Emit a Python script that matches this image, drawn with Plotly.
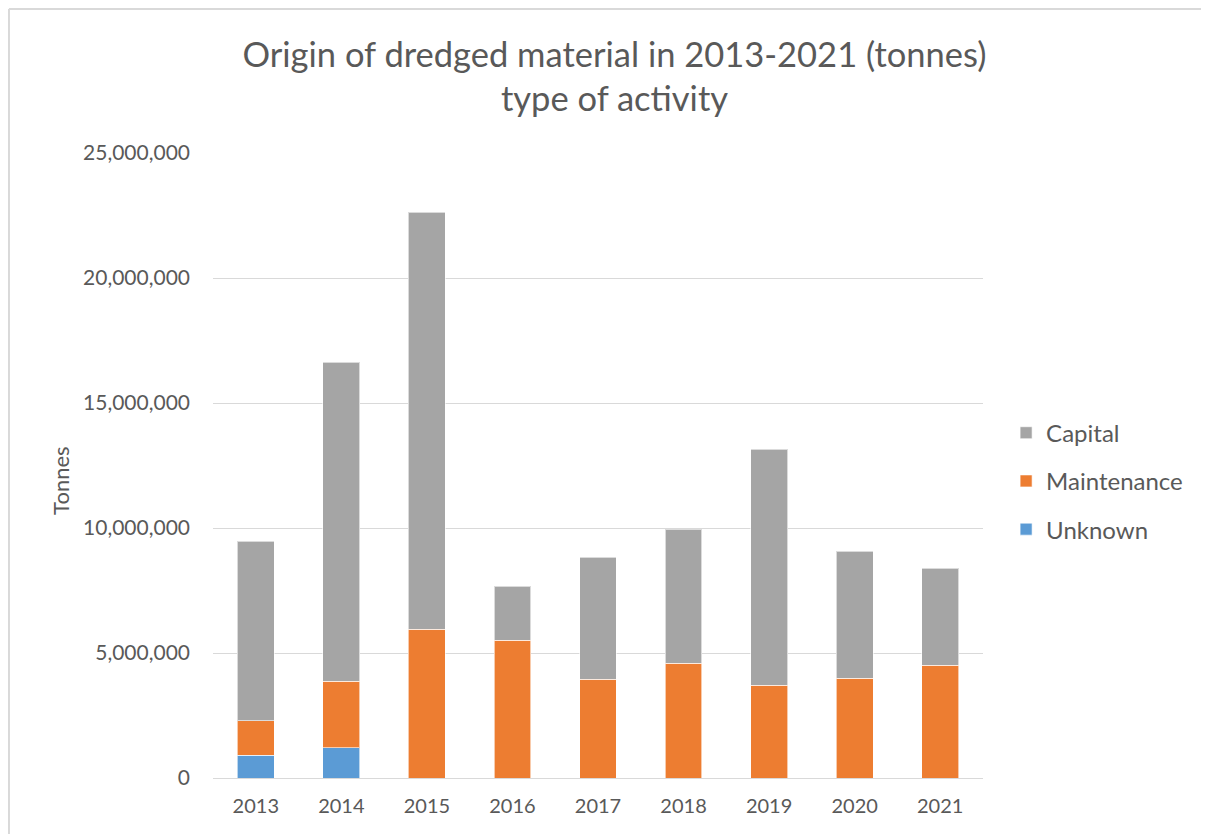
import plotly.graph_objects as go

years = ["2013", "2014", "2015", "2016", "2017", "2018", "2019", "2020", "2021"]
unknown = [920000, 1210000, 0, 0, 0, 0, 0, 0, 0]
maintenance = [1370000, 2670000, 5960000, 5520000, 3960000, 4600000, 3720000, 4000000, 4520000]
capital = [7190000, 12760000, 16680000, 2160000, 4880000, 5360000, 9440000, 5080000, 3880000]

FONT = "Lato"
TXT = "#595959"
EDGE = "#d9d9d9"

fig = go.Figure()
for name, vals, col, rank in [
    ("Unknown", unknown, "#5b9bd5", 3),
    ("Maintenance", maintenance, "#ed7d31", 2),
    ("Capital", capital, "#a5a5a5", 1),
]:
    fig.add_trace(go.Bar(
        x=years, y=vals, name=name, legendgroup=name, legendrank=rank,
        marker=dict(color=col, line=dict(color="rgba(255,255,255,0.6)", width=1)),
    ))

# page body has an 8px margin, so the figure is a bit smaller than the window
fig.update_layout(
    width=1201, height=826,
    barmode="stack", bargap=0.57,
    paper_bgcolor="white", plot_bgcolor="white",
    font=dict(family=FONT, color=TXT, size=20),
    margin=dict(l=205, r=226, t=145, b=56),
    title=dict(
        text="Origin of dredged material in 2013-2021 (tonnes)<br>type of activity",
        x=0.505, xanchor="center", y=0.929, yanchor="top",
        font=dict(size=34.5, color=TXT, family=FONT),
    ),
    legend=dict(
        x=1.03, y=0.475, xanchor="left", yanchor="middle",
        traceorder="grouped", tracegroupgap=14,
        font=dict(size=24, color=TXT), itemwidth=30,
    ),
    xaxis=dict(showline=True, linecolor=EDGE, linewidth=1, ticks="",
               tickfont=dict(size=20), ticklabelstandoff=10),
    yaxis=dict(
        range=[0, 25000000], dtick=5000000, tickformat=",d",
        gridcolor=EDGE, gridwidth=1, zeroline=False,
        ticks="", ticklabelstandoff=22, tickfont=dict(size=21),
    ),
    annotations=[dict(text="Tonnes", xref="paper", yref="paper",
                      x=-0.199, y=0.475, textangle=-90, showarrow=False,
                      xanchor="center", yanchor="middle",
                      font=dict(size=22, color=TXT))],
    # chart frame: only the left and top edges are in view
    shapes=[
        dict(type="line", xref="paper", yref="paper",
             x0=-0.265, x1=-0.265, y0=-0.2, y1=1.2305,
             line=dict(color=EDGE, width=2)),
        dict(type="line", xref="paper", yref="paper",
             x0=-0.265, x1=1.4, y0=1.2305, y1=1.2305,
             line=dict(color=EDGE, width=2)),
    ],
)

fig.write_html("out.html")
